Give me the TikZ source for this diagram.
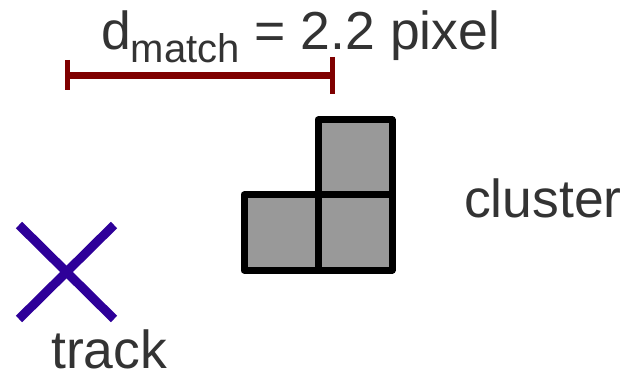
\documentclass[tikz,border=0pt]{standalone}
\usepackage{fontspec}
\setmainfont{Liberation Sans}
\definecolor{txt}{HTML}{333333}
\definecolor{barred}{HTML}{7F0000}
\definecolor{trackblue}{HTML}{2E0099}
\definecolor{cellgray}{HTML}{999999}
\begin{document}
\begin{tikzpicture}[x=1pt,y=-1pt,
  lbl/.style={inner sep=0pt, anchor=base west, text=txt, font=\fontsize{53.5}{60}\selectfont},
  cell/.style={draw=black, fill=cellgray, line width=7pt, line join=round},
  bar/.style={draw=barred, line width=7pt},
  tick/.style={draw=barred, line width=5pt},
  cross/.style={draw=trackblue, line width=9pt}]
\useasboundingbox (0,0) rectangle (626,374);
% title
\node[lbl] (title) at (101,50) {d\raisebox{-13pt}{\fontsize{40}{45}\selectfont match} = 2.2 pixel};
% distance bar
\coordinate (barL) at (67,76);
\coordinate (barR) at (332,76);
\coordinate (tLt) at (67,60);
\coordinate (tLb) at (67,90);
\coordinate (tRt) at (332,57);
\coordinate (tRb) at (332,94);
\draw[bar] (barL) -- (barR);
\draw[tick] (tLt) -- (tLb);
\draw[tick] (tRt) -- (tRb);
% cluster cells
\draw[cell] (318,120) rectangle (392,195);
\draw[cell] (244,195) rectangle (318,270);
\draw[cell] (318,195) rectangle (392,270);
\node[lbl] (cluster) at (464,217) {cluster};
% track
\coordinate (xa) at (19,225);
\coordinate (xb) at (114,319);
\coordinate (xc) at (114,225);
\coordinate (xd) at (19,319);
\draw[cross] (xa) -- (xb);
\draw[cross] (xc) -- (xd);
\node[lbl] (track) at (51,368) {track};
\end{tikzpicture}
\end{document}
